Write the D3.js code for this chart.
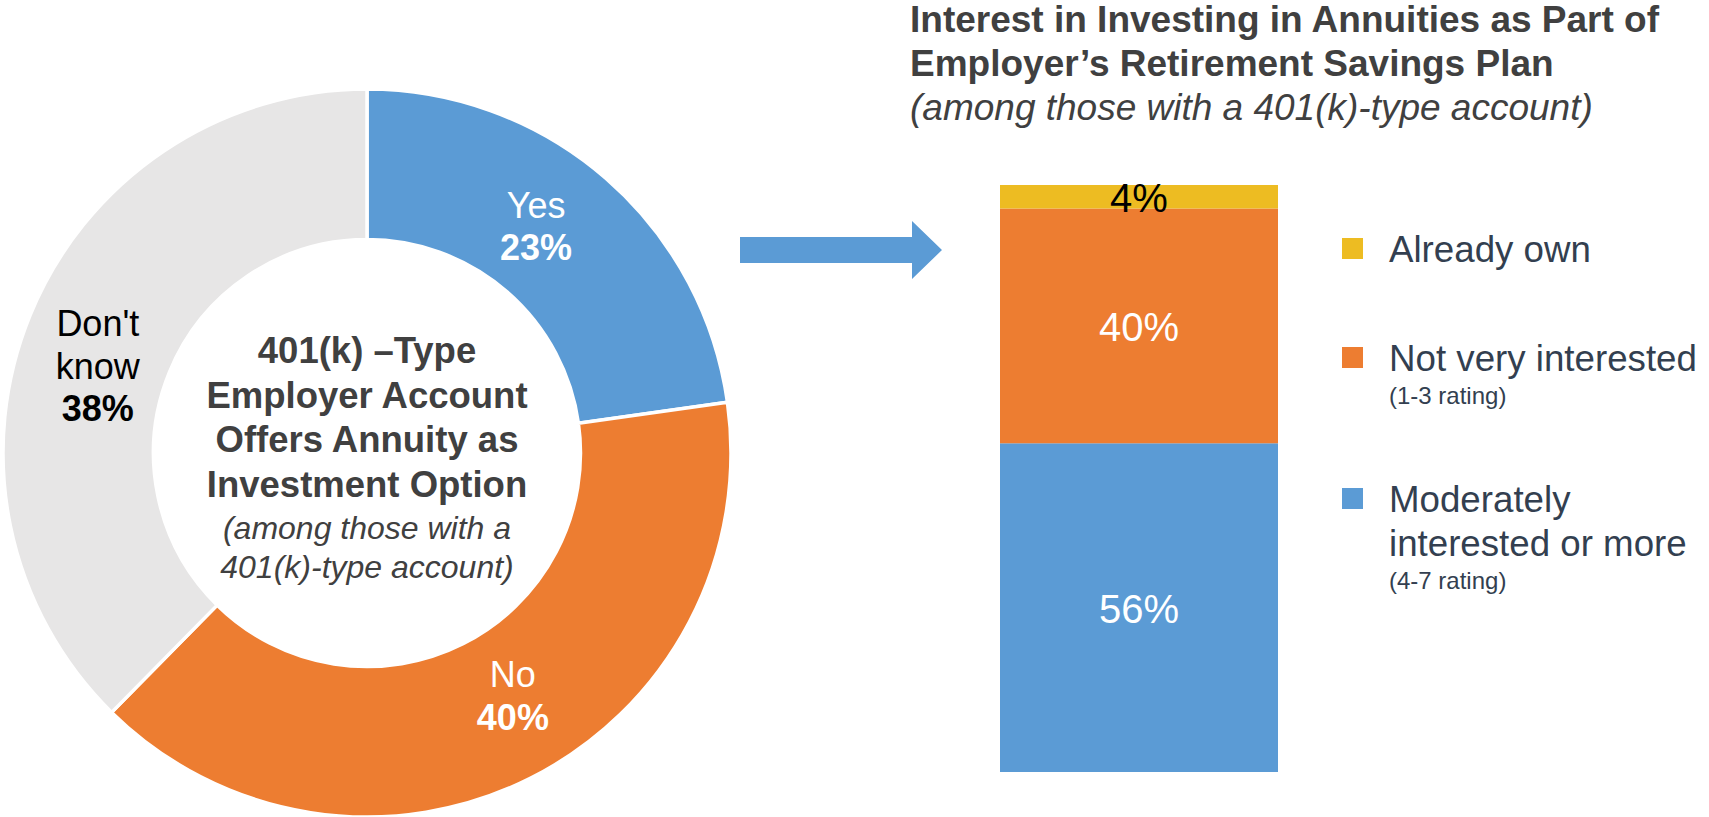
<!DOCTYPE html>
<html>
<head>
<meta charset="utf-8">
<script src="https://cdn.jsdelivr.net/npm/d3@7/dist/d3.min.js"></script>
<style>
  html, body { margin: 0; padding: 0; background: #ffffff; }
  svg { display: block; }
  text { font-family: "Liberation Sans", Arial, Helvetica, sans-serif; }
</style>
</head>
<body>
<svg id="chart" width="1709" height="817"></svg>
<script>
// ---------------- DATA ----------------
const donutCategories = ["Yes", "No", "Don't know"];
const donutLabelLines = [["Yes"], ["No"], ["Don't", "know"]];
const donutValues = [23, 40, 38];

const centerTitleLines = ["401(k) \u2013Type", "Employer Account", "Offers Annuity as", "Investment Option"];
const centerSubtitleLines = ["(among those with a", "401(k)-type account)"];

const barCategories = ["Moderately interested or more", "Not very interested", "Already own"];
const barValues = [56, 40, 4];
const legendOrder = ["Already own", "Not very interested", "Moderately interested or more"];
const legendLines = {
  "Already own": ["Already own"],
  "Not very interested": ["Not very interested"],
  "Moderately interested or more": ["Moderately", "interested or more"]
};
const legendSubLines = {
  "Already own": null,
  "Not very interested": "(1-3 rating)",
  "Moderately interested or more": "(4-7 rating)"
};

const rightTitleLines = ["Interest in Investing in Annuities as Part of", "Employer\u2019s Retirement Savings Plan"];
const rightSubtitle = "(among those with a 401(k)-type account)";

// ---------------- STYLE ----------------
const donutColor = d3.scaleOrdinal().domain(donutCategories).range(["#5B9BD5", "#ED7D31", "#E7E6E6"]);
const donutLabelColor = d3.scaleOrdinal().domain(donutCategories).range(["#ffffff", "#ffffff", "#000000"]);
const barColor = d3.scaleOrdinal().domain(barCategories).range(["#5B9BD5", "#ED7D31", "#EDBC22"]);
const barLabelColor = d3.scaleOrdinal().domain(barCategories).range(["#ffffff", "#ffffff", "#000000"]);
const titleColor = "#404040";
const legendColor = "#333F50";

const svg = d3.select("#chart");

// ---------------- DONUT ----------------
const cx = 367, cy = 453, rOuter = 364, rInner = 213.5;
const pie = d3.pie().sort(null).value(d => d.value);
const arcs = pie(donutCategories.map((c, i) => ({ cat: c, value: donutValues[i], lines: donutLabelLines[i] })));
const arc = d3.arc().innerRadius(rInner).outerRadius(rOuter);

const gDonut = svg.append("g").attr("transform", `translate(${cx},${cy})`);
gDonut.selectAll("path.slice")
  .data(arcs)
  .join("path")
  .attr("class", "slice")
  .attr("d", arc)
  .attr("fill", d => donutColor(d.data.cat))
  .attr("stroke", "#ffffff")
  .attr("stroke-width", 3.5)
  .attr("stroke-linejoin", "miter");

// labels
const labelR = 283, labelShift = 0.075, labelFs = 36, labelLH = 42.5;
const gLab = gDonut.selectAll("g.lab").data(arcs).join("g").attr("class", "lab");
gLab.each(function (d) {
  const a = (d.startAngle + d.endAngle) / 2 - labelShift;
  const x = labelR * Math.sin(a), y = -labelR * Math.cos(a);
  const lines = d.data.lines.map(t => ({ t, bold: false })).concat([{ t: d3.format(".0f")(d.data.value) + "%", bold: true }]);
  const first = y - (lines.length - 1) * labelLH / 2 + 13;
  d3.select(this).selectAll("text").data(lines).join("text")
    .attr("x", x)
    .attr("y", (l, i) => first + i * labelLH)
    .attr("text-anchor", "middle")
    .attr("font-size", labelFs)
    .attr("font-weight", l => l.bold ? "bold" : "normal")
    .attr("fill", donutLabelColor(d.data.cat))
    .text(l => l.t);
});

// center text
const gCenter = gDonut.append("g");
gCenter.selectAll("text.ct").data(centerTitleLines).join("text")
  .attr("class", "ct")
  .attr("x", 0)
  .attr("y", (d, i) => -90 + i * 44.5)
  .attr("text-anchor", "middle")
  .attr("font-size", 36.5)
  .attr("font-weight", "bold")
  .attr("fill", titleColor)
  .text(d => d);
gCenter.selectAll("text.cs").data(centerSubtitleLines).join("text")
  .attr("class", "cs")
  .attr("x", 0)
  .attr("y", (d, i) => 86 + i * 39)
  .attr("text-anchor", "middle")
  .attr("font-size", 32)
  .attr("font-style", "italic")
  .attr("fill", titleColor)
  .text(d => d);

// ---------------- ARROW ----------------
const arrow = svg.append("g").attr("transform", "translate(740,250)");
arrow.append("path")
  .attr("d", "M0,-13 L172,-13 L172,-29 L202,0 L172,29 L172,13 L0,13 Z")
  .attr("fill", "#5B9BD5");

// ---------------- RIGHT TITLE ----------------
const gTitle = svg.append("g");
gTitle.selectAll("text.rt").data(rightTitleLines).join("text")
  .attr("class", "rt")
  .attr("x", 910)
  .attr("y", (d, i) => 32 + i * 44)
  .attr("font-size", 37)
  .attr("font-weight", "bold")
  .attr("fill", titleColor)
  .text(d => d);
gTitle.append("text")
  .attr("x", 910)
  .attr("y", 120)
  .attr("font-size", 37)
  .attr("font-style", "italic")
  .attr("fill", titleColor)
  .text(rightSubtitle);

// ---------------- STACKED BAR ----------------
const y = d3.scaleLinear().domain([0, 100]).range([772, 185]);
const x = d3.scaleBand().domain(["401k"]).range([1000, 1278]).padding(0);
const stack = d3.stack().keys(barCategories);
const row = {}; barCategories.forEach((c, i) => row[c] = barValues[i]);
const series = stack([row]);

const gBar = svg.append("g");
gBar.selectAll("rect").data(series).join("rect")
  .attr("x", x("401k"))
  .attr("width", x.bandwidth())
  .attr("y", s => y(s[0][1]))
  .attr("height", s => y(s[0][0]) - y(s[0][1]))
  .attr("fill", s => barColor(s.key));

gBar.selectAll("text").data(series).join("text")
  .attr("x", x("401k") + x.bandwidth() / 2)
  .attr("y", s => (y(s[0][0]) + y(s[0][1])) / 2 + 15)
  .attr("text-anchor", "middle")
  .attr("font-size", 40)
  .attr("fill", s => barLabelColor(s.key))
  .text(s => (s[0][1] - s[0][0]) + "%");

// ---------------- LEGEND ----------------
const legendTops = { "Already own": 238, "Not very interested": 347, "Moderately interested or more": 488 };
const gLeg = svg.append("g");
legendOrder.forEach(cat => {
  const top = legendTops[cat];
  const g = gLeg.append("g");
  g.append("rect")
    .attr("x", 1342).attr("y", top)
    .attr("width", 21).attr("height", 21)
    .attr("fill", barColor(cat));
  const lines = legendLines[cat];
  lines.forEach((t, i) => {
    g.append("text")
      .attr("x", 1389)
      .attr("y", top + 24 + i * 44)
      .attr("font-size", 36.7)
      .attr("fill", legendColor)
      .text(t);
  });
  const sub = legendSubLines[cat];
  if (sub) {
    g.append("text")
      .attr("x", 1389)
      .attr("y", top + 24 + (lines.length - 1) * 44 + 33)
      .attr("font-size", 24)
      .attr("fill", legendColor)
      .text(sub);
  }
});
</script>
</body>
</html>
